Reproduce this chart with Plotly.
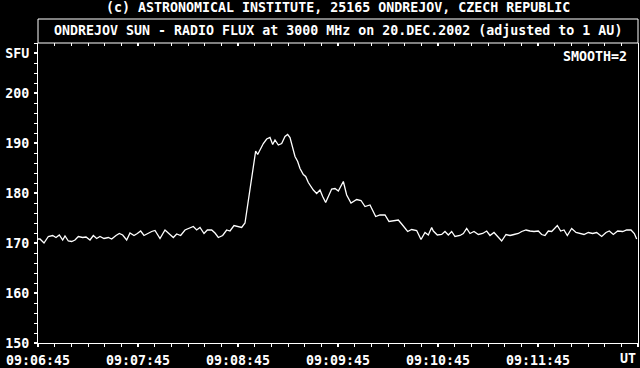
import pandas as pd
import plotly.graph_objects as go

# ---- data (seconds after 09:06:45 UT, flux in SFU) ----
t_offsets = [0, 1.2, 3.6, 6.2, 8.8, 10.8, 12.8, 14.8, 16.2, 18.2, 20.2, 22.2, 24.2, 26.8, 28.8,
             31.2, 33.2, 35.2, 37.2, 39.6, 42.2, 44.2, 46.8, 48.8, 50.8, 53.2, 55.2, 57.6, 59.6,
             61.6, 63.6, 65.6, 68.2, 70.2, 73.2, 76.2, 78.8, 81.2, 83.2, 85.6, 88.2, 90.8, 93.2,
             95.2, 97.2, 99.6, 101.6, 104.2, 106.2, 108.2, 110.8, 113.2, 115.2, 117.6, 120.2,
             122.2, 124.2, 125.8, 127.2, 128.6, 129.8, 130.6, 131.8, 133.2, 135.2, 137.2, 139.2,
             140.8, 142.2, 144.2, 146.2, 148.2, 149.8, 151.2, 152.6, 154.2, 155.8, 157.2, 159.2,
             160.6, 162.2, 163.8, 165.2, 167.2, 169.2, 170.8, 172.6, 174.2, 176.2, 178.2, 180.2,
             183.2, 185.2, 187.8, 191.2, 193.8, 196.2, 199.2, 202.6, 205.2, 208.2, 210.6, 213.8,
             216.2, 218.2, 221.8, 224.2, 227.2, 229.8, 232.2, 234.2, 236.2, 237.2, 239.6, 242.2,
             244.2, 246.2, 248.2, 250.2, 253.2, 255.2, 257.2, 259.2, 261.6, 264.2, 266.8, 269.2,
             271.2, 273.6, 275.2, 278.2, 280.8, 283.2, 285.6, 288.2, 290.2, 292.8, 295.2, 297.6,
             300.2, 302.2, 304.2, 306.2, 308.2, 309.6, 311.6, 313.6, 315.6, 317.6, 320.2, 322.8,
             325.2, 327.6, 330.2, 332.8, 335.2, 338.2, 340.8, 342.8, 345.2, 347.8, 350.8, 353.2,
             355.8, 357.8, 359.2]
flux_sfu = [170.8, 170.8, 170.0, 171.3, 171.5, 171.1, 171.6, 170.6, 171.4, 170.4, 170.3, 170.6, 171.3, 171.1, 171.2,
            170.6, 171.5, 170.9, 171.3, 170.9, 171.1, 170.8, 171.5, 171.9, 171.6, 170.6, 172.0, 171.5, 171.9,
            172.4, 171.5, 171.9, 172.3, 172.5, 170.9, 172.6, 171.9, 171.1, 171.8, 171.5, 172.6, 172.9, 173.3,
            172.6, 173.1, 171.9, 172.6, 172.6, 172.0, 171.1, 171.5, 172.6, 172.4, 173.5, 173.3,
            173.1, 174.0, 177.6, 180.9, 184.3, 187.3, 188.4, 187.7, 188.6, 189.9, 190.8, 191.1,
            189.7, 190.6, 189.6, 189.9, 191.3, 191.7, 191.1, 189.3, 187.3, 186.3, 184.9, 183.7,
            183.3, 182.1, 181.3, 180.6, 179.9, 180.6, 179.3, 178.1, 179.3, 180.8, 180.9, 180.4,
            182.3, 179.6, 178.0, 178.7, 178.5, 177.3, 177.6, 175.3, 175.6, 175.6, 174.3, 174.5,
            174.6, 173.8, 172.3, 172.7, 172.5, 170.7, 172.1, 171.6, 173.1, 172.4, 171.6, 171.7,
            172.3, 171.6, 172.3, 171.3, 171.5, 171.9, 172.9, 171.9, 172.3, 171.7, 171.9, 172.4,
            171.5, 172.1, 171.5, 170.4, 171.7, 171.5, 171.7, 171.9, 172.3, 172.6, 172.4, 172.3,
            172.4, 171.7, 171.5, 172.4, 172.3, 172.8, 173.5, 172.4, 172.6, 171.5, 172.9, 172.1,
            171.9, 171.7, 172.1, 171.9, 172.1, 171.3, 172.1, 172.4, 171.7, 172.4, 172.3, 172.6,
            172.6, 171.9, 170.8]

start_time = "2002-12-20 09:06:45"
span_seconds = 360
major_tick_offsets = [0, 60, 120, 180, 240, 300, 360]
major_tick_labels = ["09:06:45", "09:07:45", "09:08:45", "09:09:45", "09:10:45", "09:11:45", ""]
y_tick_vals = [150, 160, 170, 180, 190, 200, 208]
y_tick_text = ["150", "160", "170", "180", "190", "200", "SFU"]

header_text = "(c) ASTRONOMICAL INSTITUTE, 25165 ONDREJOV, CZECH REPUBLIC"
title_text = "ONDREJOV SUN - RADIO FLUX at 3000 MHz on 20.DEC.2002 (adjusted to 1 AU)"
smooth_text = "SMOOTH=2"
unit_text = "UT"

base = pd.Timestamp(start_time)
x_times = base + pd.to_timedelta(t_offsets, unit="s")
x_range = [base, base + pd.Timedelta(seconds=span_seconds)]
x_tickvals = [base + pd.Timedelta(seconds=s) for s in major_tick_offsets]

FONT = dict(family="DejaVu Sans Mono, Liberation Mono, monospace", size=13.3, color="white", weight="bold")

fig = go.Figure()
fig.add_trace(go.Scatter(x=x_times, y=flux_sfu, mode="lines",
                         line=dict(color="white", width=1.3), hoverinfo="skip", showlegend=False))

minor_x = dict(dtick=10000, tick0=base, ticks="outside", ticklen=3, tickwidth=1, tickcolor="white", showgrid=False)

fig.update_layout(
    width=640, height=368,
    margin=dict(l=38, r=2, t=43, b=25, autoexpand=False),
    paper_bgcolor="black", plot_bgcolor="black",
    font=FONT,
    showlegend=False,
    xaxis=dict(
        type="date", range=x_range, tickmode="array", tickvals=x_tickvals, ticktext=major_tick_labels,
        ticks="outside", ticklen=3, tickwidth=2, tickcolor="white",
        showline=True, linecolor="white", linewidth=1, showgrid=False, zeroline=False,
        tickfont=FONT, minor=minor_x, ticklabelstandoff=2, automargin=False,
    ),
    xaxis2=dict(
        type="date", range=x_range, overlaying="x", side="top", anchor="y",
        tickmode="array", tickvals=x_tickvals, showticklabels=False,
        ticks="inside", ticklen=3, tickwidth=2, tickcolor="white",
        showline=False, showgrid=False, zeroline=False, automargin=False,
        minor=dict(dtick=10000, tick0=base, ticks="inside", ticklen=3, tickwidth=1,
                   tickcolor="white", showgrid=False),
    ),
    yaxis=dict(
        range=[150, 210], tickmode="array", tickvals=y_tick_vals, ticktext=y_tick_text,
        ticks="outside", ticklen=3, tickwidth=2, tickcolor="white",
        showline=True, linecolor="white", linewidth=1, mirror=True, automargin=False,
        showgrid=False, zeroline=False, tickfont=FONT, ticklabelstandoff=2,
        minor=dict(dtick=2, ticks="outside", ticklen=3, tickwidth=1, tickcolor="white", showgrid=False),
    ),
    shapes=[dict(type="rect", xref="paper", yref="paper", x0=0, x1=1, y0=1, y1=1 + 24 / 300,
                 line=dict(color="white", width=1), fillcolor="rgba(0,0,0,0)")],
    annotations=[
        dict(text=header_text, xref="paper", yref="paper", x=0.5, y=(343 - 8) / 300,
             xanchor="center", yanchor="middle", showarrow=False, font=FONT),
        dict(text=title_text, xref="paper", yref="paper", x=0.5, y=(343 - 31) / 300,
             xanchor="center", yanchor="middle", showarrow=False, font=FONT),
        dict(text=smooth_text, xref="paper", yref="paper", x=1 - 9 / 600, y=(343 - 57) / 300,
             xanchor="right", yanchor="middle", showarrow=False, font=FONT),
        dict(text=unit_text, xref="paper", yref="paper", x=1, y=-(359 - 343) / 300,
             xanchor="right", yanchor="middle", showarrow=False, font=FONT),
    ],
)
# dummy trace so the top axis is rendered
fig.add_trace(go.Scatter(x=[x_range[0]], y=[None], xaxis="x2", mode="lines", showlegend=False, hoverinfo="skip"))

fig.write_html("out.html")
